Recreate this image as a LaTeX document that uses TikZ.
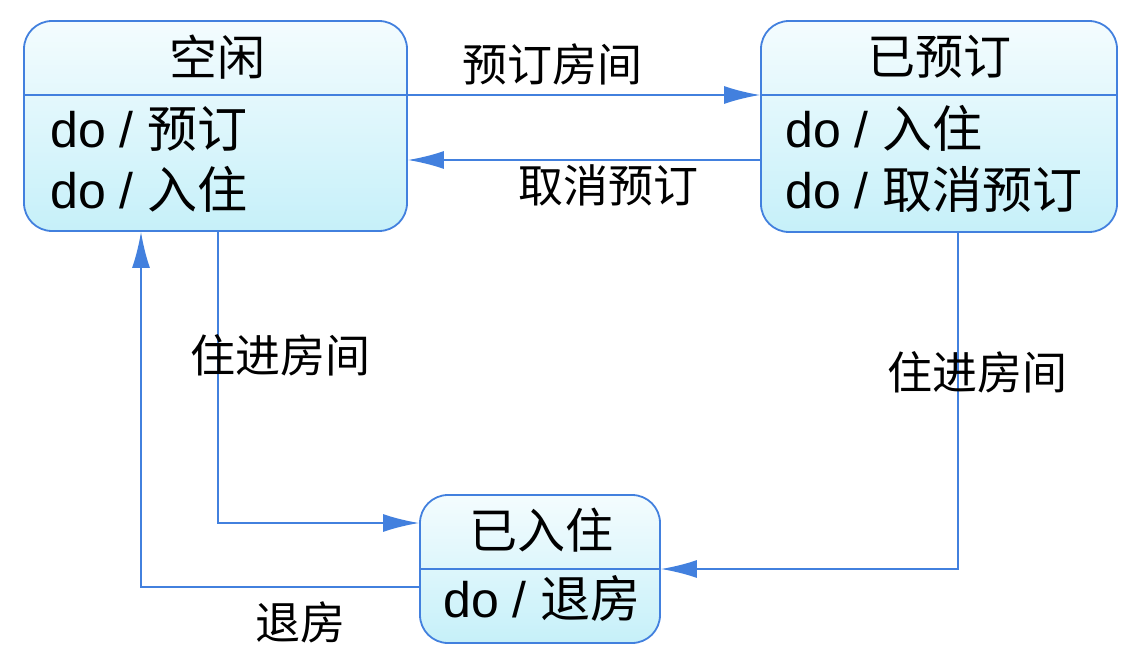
\documentclass[tikz,border=0pt]{standalone}
\usepackage{fontspec}
\setmainfont{Liberation Sans}
\newfontfamily\cjk{Noto Sans CJK SC}
\usetikzlibrary{arrows.meta}
\definecolor{lineblue}{RGB}{66,128,222}
\definecolor{filltop}{RGB}{244,252,254}
\definecolor{fillbot}{RGB}{198,240,249}
\tikzset{
 state/.style={draw=lineblue, line width=1.8pt, rounded corners=28pt, top color=filltop, bottom color=fillbot, inner sep=0pt, minimum height=0pt, minimum width=0pt},
 conn/.style={draw=lineblue, line width=1.8pt},
 arr/.style={conn, -{Latex[length=36pt,width=18pt]}},
 title/.style={font=\cjk\fontsize{48}{52}\selectfont, inner sep=0pt},
 body/.style={font=\fontsize{50}{54}\selectfont, anchor=base west, inner sep=0pt},
 lbl/.style={font=\cjk\fontsize{45}{50}\selectfont, inner sep=0pt},
}
\begin{document}
\begin{tikzpicture}[x=1pt,y=-1pt]
\useasboundingbox (0,0) rectangle (1148,666);
% states
\node[state, minimum width=383pt, minimum height=210pt] (b1) at (215.5,126) {};
\node[state, minimum width=356pt, minimum height=211pt] (b2) at (939,126.5) {};
\node[state, minimum width=240pt, minimum height=148pt] (b3) at (540,569) {};
% dividers
\coordinate (d1) at (0,95);
\coordinate (d3) at (0,569);
\draw[conn] (b1.west |- d1) -- (b1.east |- d1);
\draw[conn] (b2.west |- d1) -- (b2.east |- d1);
\draw[conn] (b3.west |- d3) -- (b3.east |- d3);
% texts
\node[title] (t1) at (217,57) {空闲};
\node[title] (t2) at (939,57) {已预订};
\node[title] (t3) at (541,530) {已入住};
\node[body] (e11) at (50,147) {do / {\cjk 预订}};
\node[body] (e12) at (50,208) {do / {\cjk 入住}};
\node[body] (e21) at (785,147) {do / {\cjk 入住}};
\node[body] (e22) at (785,208) {do / {\cjk 取消预订}};
\node[body] (e31) at (443,617) {do / {\cjk 退房}};
% connectors
\coordinate (c1) at (0,160);
\coordinate (yl) at (0,523);
\coordinate (yr) at (0,569);
\coordinate (yo) at (0,587);
\coordinate (xa) at (218,0);
\coordinate (xb) at (141,0);
\coordinate (xc) at (958,0);
\draw[arr] (b1.east |- d1) -- (b2.west |- d1);
\draw[arr] (b2.west |- c1) -- (b1.east |- c1);
\draw[arr] (xa |- b1.south) -- (xa |- yl) -- (b3.west |- yl);
\draw[arr] (xc |- b2.south) -- (xc |- yr) -- (b3.east |- yr);
\draw[arr] (b3.west |- yo) -- (xb |- yo) -- (xb |- b1.south);
% labels
\node[lbl] (l1) at (552,64) {预订房间};
\node[lbl] (l2) at (608,185) {取消预订};
\node[lbl] (l3) at (280,355) {住进房间};
\node[lbl] (l4) at (977,372) {住进房间};
\node[lbl] (l5) at (300,622) {退房};
\end{tikzpicture}
\end{document}
